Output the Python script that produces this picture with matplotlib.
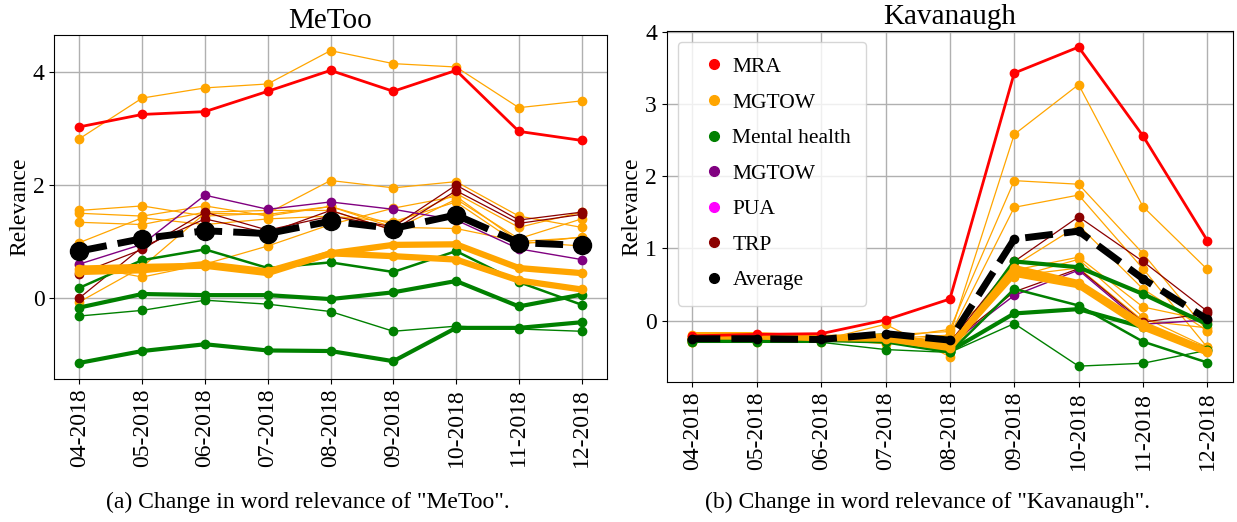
import matplotlib
matplotlib.use("Agg")
import matplotlib.pyplot as plt
from matplotlib.lines import Line2D

plt.rcParams['font.family'] = ['Liberation Serif', 'DejaVu Serif']

months = ['04-2018', '05-2018', '06-2018', '07-2018', '08-2018',
          '09-2018', '10-2018', '11-2018', '12-2018']

#%% MeToo panel values
metoo_mra = [3.03, 3.25, 3.30, 3.66, 4.03, 3.66, 4.03, 2.95, 2.79]
metoo_mgtow_thin = [
    [2.82, 3.54, 3.72, 3.79, 4.38, 4.15, 4.09, 3.37, 3.49],
    [1.55, 1.63, 1.45, 1.50, 2.08, 1.95, 2.06, 1.45, 1.25],
    [1.50, 1.45, 1.63, 1.45, 1.62, 1.30, 1.85, 1.25, 1.52],
    [1.34, 1.30, 1.52, 1.55, 1.55, 1.20, 1.75, 1.05, 1.40],
    [0.98, 1.42, 1.30, 1.40, 1.45, 1.35, 1.70, 0.95, 1.08],
    [0.58, 0.37, 0.60, 0.92, 1.30, 1.59, 1.80, 1.00, 0.92],
    [-0.07, 0.55, 1.50, 1.48, 1.62, 1.25, 1.23, 1.00, 1.07],
]
metoo_mgtow_thick = [
    [0.46, 0.49, 0.60, 0.47, 0.79, 0.94, 0.95, 0.53, 0.44],
    [0.52, 0.55, 0.57, 0.44, 0.79, 0.74, 0.68, 0.31, 0.15],
]
metoo_mental = [
    [-1.15, -0.94, -0.82, -0.93, -0.94, -1.12, -0.53, -0.53, -0.43],
    [-0.17, 0.07, 0.05, 0.05, -0.02, 0.10, 0.30, -0.15, 0.06],
    [-0.32, -0.22, -0.04, -0.11, -0.24, -0.59, -0.50, -0.55, -0.59],
    [0.18, 0.67, 0.86, 0.53, 0.63, 0.46, 0.83, 0.28, -0.12],
]
metoo_mgtow2 = [0.60, 0.95, 1.82, 1.57, 1.70, 1.57, 1.38, 0.87, 0.68]
metoo_trp = [
    [0.43, 0.86, 1.52, 1.20, 1.45, 1.26, 2.00, 1.38, 1.52],
    [0.00, 0.90, 1.40, 1.15, 1.55, 1.20, 1.90, 1.32, 1.48],
]
metoo_avg = [0.83, 1.05, 1.19, 1.14, 1.36, 1.23, 1.47, 0.98, 0.93]

#%% Kavanaugh panel values
kav_mra = [-0.21, -0.19, -0.18, 0.01, 0.30, 3.43, 3.79, 2.56, 1.11]
kav_mgtow_thin = [
    [-0.30, -0.28, -0.28, -0.25, -0.20, 2.58, 3.27, 1.58, 0.71],
    [-0.25, -0.25, -0.27, -0.25, -0.12, 1.94, 1.89, 0.93, -0.14],
    [-0.28, -0.27, -0.28, -0.30, -0.20, 1.57, 1.74, 0.72, -0.37],
    [-0.25, -0.25, -0.27, -0.05, -0.50, 0.76, 1.32, 0.44, -0.14],
    [-0.22, -0.22, -0.25, -0.32, -0.30, 0.70, 0.88, 0.19, 0.00],
    [-0.30, -0.30, -0.30, -0.20, -0.15, 0.60, 0.85, 0.05, -0.37],
    [-0.25, -0.25, -0.27, -0.28, -0.40, 0.62, 0.73, 0.00, -0.10],
]
kav_mgtow_thick = [
    [-0.22, -0.22, -0.24, -0.22, -0.35, 0.65, 0.49, -0.09, -0.44],
    [-0.20, -0.20, -0.24, -0.25, -0.38, 0.73, 0.52, -0.05, -0.42],
]
kav_mental = [
    [-0.27, -0.27, -0.27, -0.22, -0.42, 0.10, 0.16, -0.09, -0.40],
    [-0.25, -0.25, -0.27, -0.20, -0.42, 0.82, 0.74, 0.37, -0.05],
    [-0.30, -0.30, -0.30, -0.40, -0.44, -0.04, -0.63, -0.59, -0.41],
    [-0.28, -0.28, -0.28, -0.30, -0.44, 0.44, 0.21, -0.29, -0.58],
]
kav_mgtow2 = [-0.27, -0.27, -0.27, -0.26, -0.33, 0.35, 0.70, -0.05, 0.01]
kav_trp = [
    [-0.25, -0.25, -0.25, -0.23, -0.30, 0.82, 1.44, 0.82, 0.13],
    [-0.27, -0.27, -0.27, -0.25, -0.32, 0.40, 0.72, -0.02, 0.10],
]
kav_avg = [-0.25, -0.25, -0.26, -0.18, -0.27, 1.13, 1.24, 0.58, 0.02]

legend_names = ['MRA', 'MGTOW', 'Mental health', 'MGTOW', 'PUA', 'TRP', 'Average']
legend_colors = ['red', 'orange', 'green', 'purple', 'magenta', 'darkred', 'black']

green_widths = [3, 3, 1, 1.8]


def draw_panel(ax, mra, mg_thin, mg_thick, mental, mg2, trp, avg, avg_ms):
    x = range(len(months))
    for s in mg_thin:
        ax.plot(x, s, color='orange', lw=0.9, marker='o', ms=6)
    for s in trp:
        ax.plot(x, s, color='darkred', lw=0.9, marker='o', ms=6)
    ax.plot(x, mg2, color='purple', lw=1, marker='o', ms=6)
    for s, w in zip(mental, green_widths):
        ax.plot(x, s, color='green', lw=w, marker='o', ms=6)
    for s in mg_thick:
        ax.plot(x, s, color='orange', lw=4.5, marker='o', ms=6)
    ax.plot(x, mra, color='red', lw=2, marker='o', ms=6)
    ax.plot(x, avg, color='black', lw=5, ls=(0, (4, 1.6)), marker='o', ms=avg_ms)
    ax.set_xticks(list(x))
    ax.set_xticklabels(months, rotation=90, fontsize=17)
    ax.tick_params(axis='y', labelsize=17)
    ax.grid(True, color='#b0b0b0', lw=1)
    ax.set_axisbelow(True)
    ax.set_ylabel('Relevance', fontsize=17, labelpad=2)


fig = plt.figure(figsize=(12.37, 5.22), dpi=100)
ax1 = fig.add_axes([0.0439, 0.2749, 0.4466, 0.658])
ax2 = fig.add_axes([0.539, 0.268, 0.4578, 0.6724])

draw_panel(ax1, metoo_mra, metoo_mgtow_thin, metoo_mgtow_thick, metoo_mental,
           metoo_mgtow2, metoo_trp, metoo_avg, 13)
ax1.set_yticks([0, 2, 4])
ax1.set_title('MeToo', fontsize=21, pad=5)

draw_panel(ax2, kav_mra, kav_mgtow_thin, kav_mgtow_thick, kav_mental,
           kav_mgtow2, kav_trp, kav_avg, 6)
ax2.set_yticks([0, 1, 2, 3, 4])
ax2.set_title('Kavanaugh', fontsize=21, pad=5)

handles = [Line2D([], [], ls='none', marker='o', color=c, ms=7) for c in legend_colors]
ax2.legend(handles, legend_names, loc='upper left', fontsize=15.5, labelspacing=0.72,
           borderpad=0.7, handlelength=2, handletextpad=-0.15)

fig.text(0.2486, 0.037, '(a) Change in word relevance of "MeToo".', ha='center', va='center', fontsize=17)
fig.text(0.750, 0.037, '(b) Change in word relevance of "Kavanaugh".', ha='center', va='center', fontsize=17)

fig.savefig('out.png', dpi=100)
